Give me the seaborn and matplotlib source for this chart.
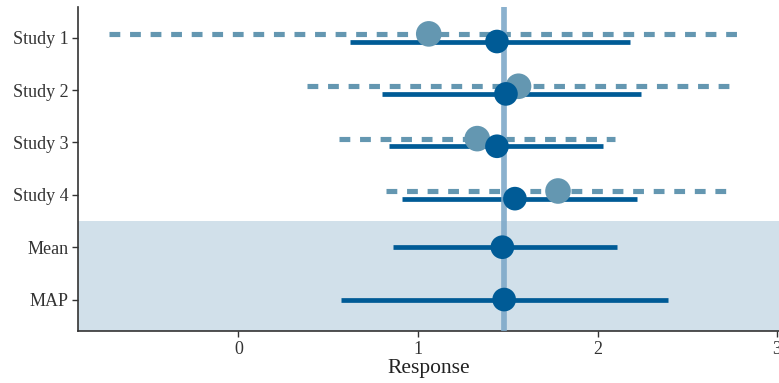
import matplotlib
matplotlib.use("Agg")
import matplotlib.pyplot as plt
import seaborn as sns
import pandas as pd

# Forest plot data: observed study estimates (dashed) and model estimates (solid)
labels = ["Study 1", "Study 2", "Study 3", "Study 4", "Mean", "MAP"]

obs_labels = ["Study 1", "Study 2", "Study 3", "Study 4"]
obs_est = [1.06, 1.56, 1.33, 1.78]
obs_lo = [-0.72, 0.38, 0.56, 0.82]
obs_hi = [2.82, 2.73, 2.10, 2.73]

mod_est = [1.44, 1.49, 1.44, 1.54, 1.47, 1.48]
mod_lo = [0.62, 0.80, 0.84, 0.91, 0.86, 0.57]
mod_hi = [2.18, 2.24, 2.03, 2.22, 2.11, 2.39]

pooled = 1.477

DARK = "#005b96"
LIGHT = "#6497b1"
SHADE = "#d1e0ea"
VLINE = "#7ea9c9"
TEXT = "#333333"

sns.set_style("ticks")
plt.rcParams["font.family"] = ["Liberation Serif", "DejaVu Serif"]

pos = {lab: i for i, lab in enumerate(labels)}
off = 0.073

obs = pd.DataFrame({"label": obs_labels, "est": obs_est, "lo": obs_lo, "hi": obs_hi})
obs["y"] = obs["label"].map(pos) - off
mod = pd.DataFrame({"label": labels, "est": mod_est, "lo": mod_lo, "hi": mod_hi})
mod["y"] = mod["label"].map(pos) + pd.Series([off] * 4 + [0.0, 0.0])

fig = plt.figure(figsize=(7.79, 3.83), dpi=100)
ax = fig.add_axes([0.1001, 0.1358, 0.8999, 0.8459])

# shaded band behind the pooled summaries (Mean, MAP)
ax.axhspan(pos["Mean"] - 0.5, 6.0, color=SHADE, zorder=0, lw=0)

ax.hlines(obs["y"], obs["lo"], obs["hi"], color=LIGHT, lw=3.7,
          linestyles=[(0, (2.1, 1.9))], zorder=2)
ax.hlines(mod["y"], mod["lo"], mod["hi"], color=DARK, lw=3.4, zorder=3)

ax.axvline(pooled, color=VLINE, lw=4.1, alpha=0.9, zorder=4)

sns.scatterplot(data=obs, x="est", y="y", ax=ax, color=LIGHT, s=340,
                edgecolor="none", zorder=5, legend=False)
sns.scatterplot(data=mod, x="est", y="y", ax=ax, color=DARK, s=290,
                edgecolor="none", zorder=6, legend=False)

ax.set_xlim(-0.894, 3.011)
ax.set_ylim(5.6, -0.586)
ax.set_yticks(range(len(labels)))
ax.set_yticklabels(labels)
ax.set_xticks([0, 1, 2, 3])
ax.set_xlabel("Response", fontsize=15.5, color="#222222", labelpad=1)
ax.set_ylabel("")
ax.tick_params(axis="both", labelsize=13, colors=TEXT, length=4, width=1)
ax.tick_params(axis="y", pad=3)
ax.tick_params(axis="x", pad=3)
for s in ["top", "right"]:
    ax.spines[s].set_visible(False)
for s in ["left", "bottom"]:
    ax.spines[s].set_color(TEXT)
    ax.spines[s].set_linewidth(1.2)

fig.savefig("out.png", dpi=100)
